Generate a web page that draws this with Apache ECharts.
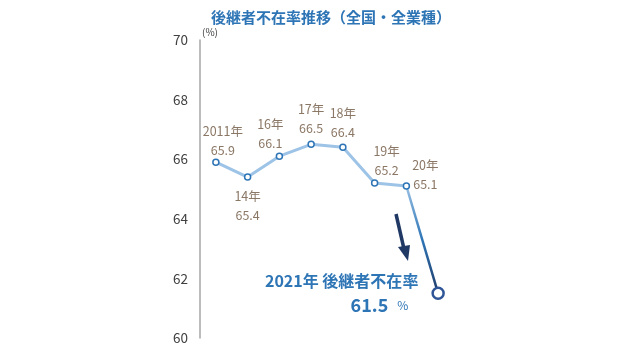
<!DOCTYPE html>
<html><head><meta charset="utf-8">
<script src="https://cdn.jsdelivr.net/npm/echarts@6/dist/echarts.min.js"></script>
<style>html,body{margin:0;padding:0;background:#fff}#c{width:640px;height:360px}</style>
</head><body><div id="c"></div>
<script>
const categories = ['2011年','14年','16年','17年','18年','19年','20年','2021年'];
const values = [65.9, 65.4, 66.1, 66.5, 66.4, 65.2, 65.1, 61.5];
const yTicks = [60, 62, 64, 66, 68, 70];
const titleText = '後継者不在率推移（全国・全業種）';
const noteLine1 = '2021年 後継者不在率';

// label placement per point (style only)
const labelLayout = [
  {pos:'top', off:[7,6]},
  {pos:'bottom', off:[0,1]},
  {pos:'top', off:[-9,5]},
  {pos:'top', off:[0,2]},
  {pos:'top', off:[0,3]},
  {pos:'top', off:[12,5]},
  {pos:'top', off:[19,16]},
];
const FONT = '"Noto Sans CJK JP", "Noto Sans", sans-serif';
const labelColor = '#8b7765';

const n = values.length;
const mainData = values.slice(0, n - 1).map((v, i) => ({
  value: v,
  label: {
    show: true,
    position: labelLayout[i].pos,
    offset: labelLayout[i].off,
    formatter: categories[i] + '\n' + v.toFixed(1),
    color: labelColor,
    fontSize: 12.5,
    lineHeight: 19,
    fontFamily: FONT
  }
}));
const lastData = values.map((v, i) => (i >= n - 2 ? v : null));
const lastDataObj = lastData.map((v, i) => {
  if (i === n - 1) {
    return {
      value: v,
      symbolSize: 11,
      itemStyle: {color: '#ffffff', borderColor: '#2f5597', borderWidth: 2.5},
      label: {
        show: true,
        position: 'left',
        offset: [-8, 0],
        align: 'right',
        formatter: '{t|' + noteLine1 + '}\n{v|' + v.toFixed(1) + '}{p|%}{s|}',
        rich: {
          t: {fontSize: 16, fontWeight: 'bold', color: '#2e75b6', fontFamily: FONT, lineHeight: 24, align: 'right'},
          v: {fontSize: 18, fontWeight: 'bold', color: '#2e75b6', fontFamily: FONT, lineHeight: 24},
          p: {fontSize: 12, color: '#2e75b6', fontFamily: FONT, padding: [0, 0, 0, 9]},
          s: {width: 10}
        }
      }
    };
  }
  return {value: v, symbolSize: 0, itemStyle:{opacity:0}};
});

const chart = echarts.init(document.getElementById('c'));
chart.setOption({
  animation: false,
  title: {
    text: titleText, left: 326, top: 5, textAlign: 'center',
    textStyle: {fontSize: 15, fontWeight: 'bold', color: '#2e75b6', fontFamily: FONT}
  },
  grid: {left: 200, right: 186, top: 40, bottom: 22},
  xAxis: {
    type: 'category', data: categories, boundaryGap: true,
    axisLine: {show: false}, axisTick: {show: false}, axisLabel: {show: false}, splitLine: {show: false}
  },
  yAxis: {
    type: 'value', min: yTicks[0], max: yTicks[yTicks.length - 1], interval: 2,
    name: '(%)', nameLocation: 'end', nameGap: 3,
    nameTextStyle: {fontSize: 10, color: '#404040', align: 'left', padding: [0, 0, 0, 2], fontFamily: FONT},
    axisLine: {show: true, lineStyle: {color: '#a6a6a6', width: 1.5}},
    axisTick: {show: false},
    splitLine: {show: false},
    axisLabel: {fontSize: 13.5, color: '#404040', margin: 12, fontFamily: FONT}
  },
  series: [
    {
      type: 'line', data: lastDataObj, z: 2,
      symbol: 'circle', symbolSize: 11, showSymbol: true,
      lineStyle: {width: 2.5, color: new echarts.graphic.LinearGradient(0, 0, 0, 1, [
        {offset: 0, color: '#9dc3e6'}, {offset: 0.5, color: '#2e75b6'}, {offset: 1, color: '#1f3864'}
      ])},
      itemStyle: {color: '#fff', borderColor: '#2f5597', borderWidth: 2.5}
    },
    {
      type: 'line', data: mainData, z: 3,
      symbol: 'circle', symbolSize: 6, showSymbol: true,
      lineStyle: {width: 3, color: '#9dc3e6'},
      itemStyle: {color: '#ffffff', borderColor: '#2e75b6', borderWidth: 1.5}
    }
  ],
  graphic: [
    {type: 'line', shape: {x1: 396, y1: 214, x2: 404, y2: 249}, style: {stroke: '#1f3864', lineWidth: 3.5}},
    {type: 'polygon', shape: {points: [[398, 247], [410, 245], [408, 261]]}, style: {fill: '#1f3864'}}
  ]
});
</script>
</body></html>
